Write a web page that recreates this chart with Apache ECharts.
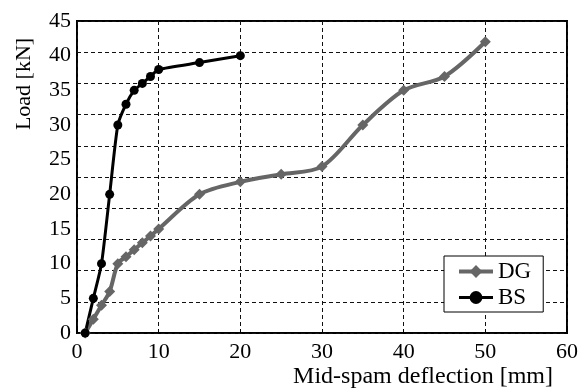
<!DOCTYPE html>
<html>
<head>
<meta charset="utf-8">
<script src="https://cdn.jsdelivr.net/npm/echarts@6/dist/echarts.min.js"></script>
<style>
  html, body { margin: 0; padding: 0; background: #fff; }
  #chart { width: 581px; height: 389px; }
</style>
</head>
<body>
<div id="chart"></div>
<script>
  // deflection [mm] / load [kN]
  var dgX = [1, 2, 3, 4, 5, 6, 7, 8, 9, 10, 15, 20, 25, 30, 35, 40, 45, 50];
  var dgY = [0, 2, 4, 6, 10, 11, 12, 13, 14, 15, 20, 21.8, 22.9, 24, 30, 35, 37, 42];
  var bsX = [1, 2, 3, 4, 5, 6, 7, 8, 9, 10, 15, 20];
  var bsY = [0, 5, 10, 20, 30, 33, 35, 36, 37, 38, 39, 40];
  var yTickLabels = ['0', '5', '10', '15', '20', '25', '30', '35', '40', '45'];

  var font = 'Liberation Serif';

  function pairs(xs, ys) {
    return xs.map(function (x, i) { return [x, ys[i]]; });
  }

  var chart = echarts.init(document.getElementById('chart'));
  chart.setOption({
    animation: false,
    grid: {
      left: 77, top: 21, right: 12, bottom: 56,
      show: true, borderColor: '#000', borderWidth: 2, backgroundColor: 'transparent'
    },
    legend: {
      left: 444, top: 256,
      orient: 'vertical',
      backgroundColor: '#fff',
      borderColor: '#000',
      borderWidth: 1,
      padding: [4, 12, 3, 13],
      itemWidth: 34,
      itemHeight: 16,
      itemGap: 3,
      textStyle: { fontFamily: font, fontSize: 23, color: '#000' },
      data: [
        { name: 'DG', lineStyle: { width: 4 } },
        { name: 'BS', lineStyle: { width: 3 } }
      ]
    },
    xAxis: {
      type: 'value', min: 0, max: 60, interval: 10,
      name: 'Mid-spam deflection [mm]',
      nameLocation: 'end',
      nameGap: -14,
      nameTextStyle: {
        fontFamily: font, fontSize: 24, color: '#000',
        align: 'right', verticalAlign: 'top', padding: [32, 0, 0, 0]
      },
      axisLine: { show: false },
      axisTick: { show: true, inside: true, length: 4, lineStyle: { color: '#000' } },
      axisLabel: { fontFamily: font, fontSize: 22, color: '#000', margin: 8 },
      splitLine: { show: true, lineStyle: { color: '#111', type: [4, 3], width: 1 } }
    },
    yAxis: [{
      type: 'value', min: 0, max: 50, interval: 5,
      axisLine: { show: false },
      axisTick: { show: false },
      axisLabel: { show: false },
      splitLine: { show: true, lineStyle: { color: '#111', type: [4, 3], width: 1 } }
    }, {
      type: 'value', min: 0, max: 45, interval: 5,
      position: 'left',
      axisLine: { show: false },
      axisTick: { show: false },
      splitLine: { show: false },
      axisLabel: {
        fontFamily: font, fontSize: 22, color: '#000', margin: 6,
        formatter: function (v) { return yTickLabels[Math.round(v / 5)]; }
      }
    }],
    graphic: [{
      type: 'text',
      x: 24, y: 84,
      rotation: Math.PI / 2,
      style: {
        text: 'Load [kN]',
        fontFamily: font, fontSize: 22, fill: '#000',
        align: 'center', verticalAlign: 'middle'
      }
    }],
    series: [{
      name: 'DG',
      type: 'line',
      yAxisIndex: 1,
      data: pairs(dgX, dgY),
      smooth: 0.3,
      symbol: 'diamond',
      symbolSize: 11,
      color: '#666',
      lineStyle: { width: 4, color: '#666' },
      itemStyle: { color: '#666' }
    }, {
      name: 'BS',
      type: 'line',
      yAxisIndex: 1,
      data: pairs(bsX, bsY),
      smooth: 0.2,
      symbol: 'circle',
      symbolSize: 9,
      color: '#000',
      lineStyle: { width: 3, color: '#000' },
      itemStyle: { color: '#000' }
    }]
  });
</script>
</body>
</html>
